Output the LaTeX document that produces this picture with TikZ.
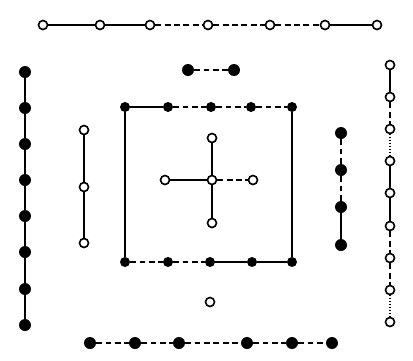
\documentclass[tikz,border=0pt]{standalone}
\usepackage{tikz}
\usetikzlibrary{shapes,arrows,positioning}
\tikzset{
    yin/.style = {circle, fill=black, inner sep=0pt, minimum size=0.36cm},
    yinsmall/.style = {circle, fill=black, inner sep=0pt, minimum size=0.3cm},
    yang/.style = {circle, draw=black, line width=1.4pt, fill=white, inner sep=0pt, minimum size=0.27cm},
    link/.style = {line width=0.9pt},
    broken/.style = {line width=0.9pt, dash pattern=on 5pt off 3pt},
    dotty/.style = {line width=0.9pt, dash pattern=on 1pt off 1.5pt}
}

\begin{document}
\begin{tikzpicture}[x=0.03cm, y=-0.03cm]
    \useasboundingbox (0,0) rectangle (413,361);

    % Outer top: seven
    \node [yang] (top1) at (43,25) {};
    \node [yang] (top2) at (100,25) {};
    \node [yang] (top3) at (150,25) {};
    \node [yang] (top4) at (208,25) {};
    \node [yang] (top5) at (270,25) {};
    \node [yang] (top6) at (325,25) {};
    \node [yang] (top7) at (377,25) {};

    % Inner top: two
    \node [yin] (two1) at (188,70) {};
    \node [yin] (two2) at (234,70) {};

    % Outer left: eight
    \node [yin] (west1) at (25,72) {};
    \node [yin] (west2) at (25,108) {};
    \node [yin] (west3) at (25,144) {};
    \node [yin] (west4) at (25,180) {};
    \node [yin] (west5) at (25,216) {};
    \node [yin] (west6) at (25,252) {};
    \node [yin] (west7) at (25,289) {};
    \node [yin] (west8) at (25,325) {};

    % Inner left: three
    \node [yang] (three1) at (84,130) {};
    \node [yang] (three2) at (84,187) {};
    \node [yang] (three3) at (84,243) {};

    % Inner right: four
    \node [yin] (four1) at (341,133) {};
    \node [yin] (four2) at (341,170) {};
    \node [yin] (four3) at (341,207) {};
    \node [yin] (four4) at (341,245) {};

    % Outer right: nine
    \node [yang] (east1) at (390,65) {};
    \node [yang] (east2) at (390,97) {};
    \node [yang] (east3) at (390,129) {};
    \node [yang] (east4) at (390,161) {};
    \node [yang] (east5) at (390,193) {};
    \node [yang] (east6) at (390,226) {};
    \node [yang] (east7) at (390,258) {};
    \node [yang] (east8) at (390,290) {};
    \node [yang] (east9) at (390,322) {};

    % Center square: ten
    \node [yinsmall] (sqtop1) at (125,107) {};
    \node [yinsmall] (sqtop2) at (168,107) {};
    \node [yinsmall] (sqtop3) at (211,107) {};
    \node [yinsmall] (sqtop4) at (251,107) {};
    \node [yinsmall] (sqtop5) at (292,107) {};
    \node [yinsmall] (sqbot1) at (125,262) {};
    \node [yinsmall] (sqbot2) at (168,262) {};
    \node [yinsmall] (sqbot3) at (210,262) {};
    \node [yinsmall] (sqbot4) at (252,262) {};
    \node [yinsmall] (sqbot5) at (292,262) {};

    % Center cross: five
    \node [yang] (mid) at (212,180) {};
    \node [yang] (midN) at (212,138) {};
    \node [yang] (midS) at (212,223) {};
    \node [yang] (midW) at (165,180) {};
    \node [yang] (midE) at (253,180) {};

    % Inner bottom: one
    \node [yang] (one) at (210,302) {};

    % Outer bottom: six
    \node [yin] (six1) at (90,343) {};
    \node [yin] (six2) at (135,343) {};
    \node [yin] (six3) at (179,343) {};
    \node [yin] (six4) at (247,343) {};
    \node [yin] (six5) at (292,343) {};
    \node [yin] (six6) at (332,343) {};

    % Links
    \draw [link] (top1) -- (top2) -- (top3);
    \draw [broken] (top3) -- (top4) -- (top5) -- (top6);
    \draw [link] (top6) -- (top7);
    \draw [broken] (two1) -- (two2);
    \draw [link] (west1) -- (west2) -- (west3) -- (west4) -- (west5) -- (west6) -- (west7) -- (west8);
    \draw [link] (three1) -- (three2) -- (three3);
    \draw [broken] (four1) -- (four2) -- (four3);
    \draw [link] (four3) -- (four4);
    \draw [link] (east1) -- (east2);
    \draw [broken] (east2) -- (east3);
    \draw [dotty] (east3) -- (east4);
    \draw [link] (east4) -- (east5) -- (east6);
    \draw [broken] (east6) -- (east7) -- (east8);
    \draw [dotty] (east8) -- (east9);
    \draw [link] (sqtop1) -- (sqtop2);
    \draw [broken] (sqtop2) -- (sqtop3) -- (sqtop4) -- (sqtop5);
    \draw [link] (sqtop1) -- (sqbot1);
    \draw [link] (sqtop5) -- (sqbot5);
    \draw [broken] (sqbot1) -- (sqbot2) -- (sqbot3);
    \draw [link] (sqbot3) -- (sqbot4) -- (sqbot5);
    \draw [link] (midN) -- (mid) -- (midS);
    \draw [link] (midW) -- (mid);
    \draw [broken] (mid) -- (midE);
    \draw [broken] (six1) -- (six2) -- (six3) -- (six4) -- (six5) -- (six6);
\end{tikzpicture}
\end{document}
